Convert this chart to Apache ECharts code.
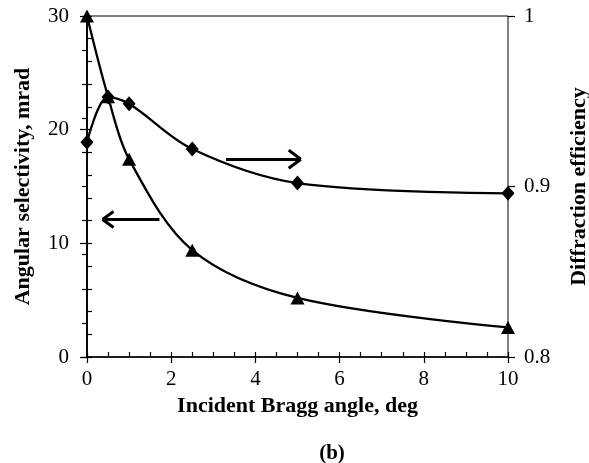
<!DOCTYPE html>
<html>
<head>
<meta charset="utf-8">
<script src="https://cdn.jsdelivr.net/npm/echarts@6/dist/echarts.min.js"></script>
<style>
html,body{margin:0;padding:0;background:#fff;}
#c{width:589px;height:463px;}
</style>
</head>
<body>
<div id="c"></div>
<script>
// Data
const braggAngle = [0, 0.5, 1, 2.5, 5, 10];
const angularSelectivity = [30, 22.9, 17.4, 9.4, 5.2, 2.6];      // mrad, left axis (triangles)
const diffractionEfficiency = [0.926, 0.9525, 0.9485, 0.922, 0.902, 0.896]; // right axis (diamonds)
const xTicks = [0, 2, 4, 6, 8, 10];
const leftTicks = [0, 10, 20, 30];
const rightTicks = [0.8, 0.9, 1];
// Annotation arrows in data coordinates (left-axis units): [from, to]
const arrowToRight = [[3.3, 17.4], [5.08, 17.4]];
const arrowToLeft = [[1.72, 12.1], [0.37, 12.1]];

const FONT = '"Liberation Serif", "Times New Roman", serif';

function arrowLines(a, headDx, headDy) {
  const tip = a[1];
  const dir = Math.sign(a[1][0] - a[0][0]);
  const back = tip[0] - dir * headDx;
  return [
    [{coord: a[0]}, {coord: a[1]}],
    [{coord: tip}, {coord: [back, tip[1] + headDy]}],
    [{coord: tip}, {coord: [back, tip[1] - headDy]}]
  ];
}

const chart = echarts.init(document.getElementById('c'), null, {renderer: 'canvas'});
const axisLineStyle = {color: '#000', width: 1.5};
const labelStyle = {color: '#000', fontFamily: FONT, fontSize: 21};
const nameStyle = {color: '#000', fontFamily: FONT, fontSize: 22, fontWeight: 'bold'};

chart.setOption({
  animation: false,
  backgroundColor: '#fff',
  grid: {left: 87, right: 81, top: 16, bottom: 106, outerBoundsMode: 'none', containLabel: false,
         show: true, borderColor: '#000', borderWidth: 1, backgroundColor: 'transparent'},
  title: {
    text: '(b)', left: 327, top: 438, textAlign: 'center',
    textStyle: {color: '#000', fontFamily: FONT, fontSize: 21, fontWeight: 'bold'}
  },
  xAxis: [
    {
      type: 'value', min: xTicks[0], max: xTicks[xTicks.length - 1], interval: 2,
      name: 'Incident Bragg angle, deg', nameLocation: 'middle', nameGap: 38,
      nameTextStyle: nameStyle,
      axisLine: {show: true, lineStyle: axisLineStyle},
      axisTick: {show: true, inside: true, length: 5, lineStyle: {color: '#000', width: 1.2}},
      minorTick: {show: true, splitNumber: 4, length: 5, lineStyle: {color: '#000', width: 1.2}},
      axisLabel: Object.assign({margin: 12}, labelStyle),
      splitLine: {show: false}
    },
    {
      type: 'value', min: 0, max: 10, interval: 2, position: 'bottom',
      axisLine: {show: false},
      axisTick: {show: true, inside: false, length: 6, lineStyle: {color: '#000', width: 1.2}},
      axisLabel: {show: false}, splitLine: {show: false}
    }
  ],
  yAxis: [
    {
      type: 'value', min: leftTicks[0], max: leftTicks[leftTicks.length - 1], interval: 10, position: 'left',
      name: 'Angular selectivity, mrad', nameLocation: 'middle', nameGap: 53, nameRotate: 90,
      nameTextStyle: nameStyle,
      axisLine: {show: true, lineStyle: axisLineStyle},
      axisTick: {show: true, inside: true, length: 5, lineStyle: {color: '#000', width: 1.2}},
      minorTick: {show: true, splitNumber: 5, length: 5, lineStyle: {color: '#000', width: 1.2}},
      axisLabel: Object.assign({margin: 18}, labelStyle),
      splitLine: {show: false}
    },
    {
      type: 'value', min: rightTicks[0], max: rightTicks[rightTicks.length - 1], interval: 0.1, position: 'right',
      name: 'Diffraction efficiency', nameLocation: 'middle', nameGap: 60, nameRotate: 90,
      nameTextStyle: nameStyle,
      axisLine: {show: true, lineStyle: axisLineStyle},
      axisTick: {show: true, inside: true, length: 5, lineStyle: {color: '#000', width: 1.2}},
      minorTick: {show: true, splitNumber: 5, length: 5, lineStyle: {color: '#000', width: 1.2}},
      axisLabel: Object.assign({margin: 16, formatter: v => String(Math.round(v * 10) / 10)}, labelStyle),
      splitLine: {show: false}
    },
    {
      type: 'value', min: 0, max: 30, interval: 10, position: 'left',
      axisLine: {show: false},
      axisTick: {show: true, inside: false, length: 7, lineStyle: {color: '#000', width: 1.2}},
      axisLabel: {show: false}, splitLine: {show: false}
    },
    {
      type: 'value', min: 0.8, max: 1, interval: 0.1, position: 'right',
      axisLine: {show: false},
      axisTick: {show: true, inside: false, length: 7, lineStyle: {color: '#000', width: 1.2}},
      axisLabel: {show: false}, splitLine: {show: false}
    }
  ],
  series: [
    {
      name: 'Angular selectivity', type: 'line', xAxisIndex: 0, yAxisIndex: 0,
      data: braggAngle.map((x, i) => [x, angularSelectivity[i]]),
      smooth: 0.33,
      symbol: 'triangle', symbolSize: [14, 13],
      lineStyle: {color: '#000', width: 2.3},
      itemStyle: {color: '#000'},
      z: 3,
      markLine: {
        silent: true, symbol: ['none', 'none'],
        label: {show: false},
        lineStyle: {color: '#000', width: 3, type: 'solid'},
        emphasis: {disabled: true},
        data: arrowLines(arrowToRight, 0.29, 0.8).concat(arrowLines(arrowToLeft, 0.26, 0.7))
      }
    },
    {
      name: 'Diffraction efficiency', type: 'line', xAxisIndex: 0, yAxisIndex: 1,
      data: braggAngle.map((x, i) => [x, diffractionEfficiency[i]]),
      smooth: 0.33,
      symbol: 'diamond', symbolSize: [13, 15],
      lineStyle: {color: '#000', width: 2.3},
      itemStyle: {color: '#000'},
      z: 3
    }
  ]
});
</script>
</body>
</html>
